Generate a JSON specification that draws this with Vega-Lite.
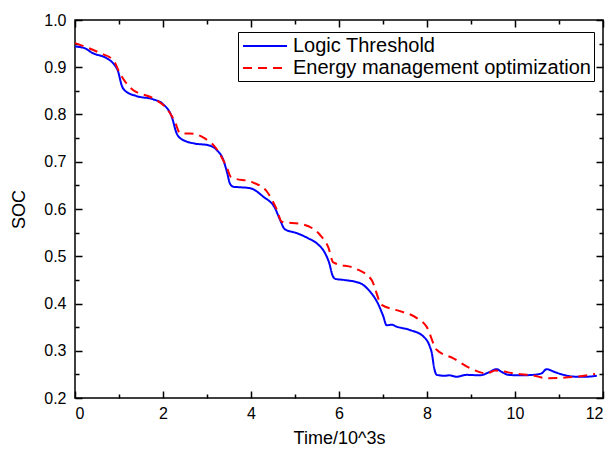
{
  "$schema": "https://vega.github.io/schema/vega-lite/v6.json",
  "width": 528,
  "height": 378,
  "autosize": {"type": "none"},
  "padding": {"left": 75, "top": 20, "right": 11, "bottom": 55},
  "background": "white",
  "config": {
    "view": {"stroke": "black", "strokeWidth": 1.5},
    "font": "Liberation Sans",
    "axis": {
      "domain": false,
      "ticks": false,
      "tickSize": 0,
      "grid": true,
      "gridColor": "black",
      "gridOpacity": 1,
      "gridWidth": 1.5,
      "labelFont": "Liberation Sans",
      "labelFontSize": 16,
      "labelColor": "black",
      "titleFont": "Liberation Sans",
      "titleFontSize": 18,
      "titleFontWeight": "normal",
      "titleColor": "black",
      "labelOverlap": false
    }
  },
  "data": {
    "values": [
      {"t": 0, "soc": 0.944, "series": "Logic Threshold"},
      {"t": 0.23, "soc": 0.940, "series": "Logic Threshold"},
      {"t": 0.38, "soc": 0.931, "series": "Logic Threshold"},
      {"t": 0.72, "soc": 0.919, "series": "Logic Threshold"},
      {"t": 0.87, "soc": 0.908, "series": "Logic Threshold"},
      {"t": 0.98, "soc": 0.891, "series": "Logic Threshold"},
      {"t": 1.06, "soc": 0.862, "series": "Logic Threshold"},
      {"t": 1.14, "soc": 0.850, "series": "Logic Threshold"},
      {"t": 1.4, "soc": 0.839, "series": "Logic Threshold"},
      {"t": 1.78, "soc": 0.832, "series": "Logic Threshold"},
      {"t": 2.0, "soc": 0.822, "series": "Logic Threshold"},
      {"t": 2.2, "soc": 0.795, "series": "Logic Threshold"},
      {"t": 2.31, "soc": 0.760, "series": "Logic Threshold"},
      {"t": 2.39, "soc": 0.750, "series": "Logic Threshold"},
      {"t": 2.69, "soc": 0.739, "series": "Logic Threshold"},
      {"t": 3.03, "soc": 0.735, "series": "Logic Threshold"},
      {"t": 3.22, "soc": 0.725, "series": "Logic Threshold"},
      {"t": 3.37, "soc": 0.704, "series": "Logic Threshold"},
      {"t": 3.46, "soc": 0.676, "series": "Logic Threshold"},
      {"t": 3.52, "soc": 0.654, "series": "Logic Threshold"},
      {"t": 3.6, "soc": 0.647, "series": "Logic Threshold"},
      {"t": 3.75, "soc": 0.646, "series": "Logic Threshold"},
      {"t": 3.98, "soc": 0.644, "series": "Logic Threshold"},
      {"t": 4.28, "soc": 0.626, "series": "Logic Threshold"},
      {"t": 4.55, "soc": 0.601, "series": "Logic Threshold"},
      {"t": 4.66, "soc": 0.577, "series": "Logic Threshold"},
      {"t": 4.77, "soc": 0.557, "series": "Logic Threshold"},
      {"t": 5.04, "soc": 0.549, "series": "Logic Threshold"},
      {"t": 5.3, "soc": 0.538, "series": "Logic Threshold"},
      {"t": 5.5, "soc": 0.527, "series": "Logic Threshold"},
      {"t": 5.68, "soc": 0.507, "series": "Logic Threshold"},
      {"t": 5.78, "soc": 0.485, "series": "Logic Threshold"},
      {"t": 5.85, "soc": 0.460, "series": "Logic Threshold"},
      {"t": 5.92, "soc": 0.452, "series": "Logic Threshold"},
      {"t": 6.1, "soc": 0.450, "series": "Logic Threshold"},
      {"t": 6.48, "soc": 0.443, "series": "Logic Threshold"},
      {"t": 6.67, "soc": 0.429, "series": "Logic Threshold"},
      {"t": 6.9, "soc": 0.397, "series": "Logic Threshold"},
      {"t": 7.01, "soc": 0.372, "series": "Logic Threshold"},
      {"t": 7.08, "soc": 0.354, "series": "Logic Threshold"},
      {"t": 7.2, "soc": 0.355, "series": "Logic Threshold"},
      {"t": 7.31, "soc": 0.351, "series": "Logic Threshold"},
      {"t": 7.61, "soc": 0.344, "series": "Logic Threshold"},
      {"t": 7.92, "soc": 0.330, "series": "Logic Threshold"},
      {"t": 8.06, "soc": 0.310, "series": "Logic Threshold"},
      {"t": 8.11, "soc": 0.295, "series": "Logic Threshold"},
      {"t": 8.16, "soc": 0.265, "series": "Logic Threshold"},
      {"t": 8.22, "soc": 0.249, "series": "Logic Threshold"},
      {"t": 8.4, "soc": 0.247, "series": "Logic Threshold"},
      {"t": 8.5, "soc": 0.248, "series": "Logic Threshold"},
      {"t": 8.67, "soc": 0.245, "series": "Logic Threshold"},
      {"t": 8.9, "soc": 0.249, "series": "Logic Threshold"},
      {"t": 9.2, "soc": 0.248, "series": "Logic Threshold"},
      {"t": 9.4, "soc": 0.254, "series": "Logic Threshold"},
      {"t": 9.58, "soc": 0.261, "series": "Logic Threshold"},
      {"t": 9.7, "soc": 0.255, "series": "Logic Threshold"},
      {"t": 9.85, "soc": 0.249, "series": "Logic Threshold"},
      {"t": 10.1, "soc": 0.248, "series": "Logic Threshold"},
      {"t": 10.42, "soc": 0.249, "series": "Logic Threshold"},
      {"t": 10.6, "soc": 0.252, "series": "Logic Threshold"},
      {"t": 10.72, "soc": 0.261, "series": "Logic Threshold"},
      {"t": 10.9, "soc": 0.255, "series": "Logic Threshold"},
      {"t": 11.1, "soc": 0.249, "series": "Logic Threshold"},
      {"t": 11.4, "soc": 0.245, "series": "Logic Threshold"},
      {"t": 11.6, "soc": 0.245, "series": "Logic Threshold"},
      {"t": 11.86, "soc": 0.247, "series": "Logic Threshold"},
      {"t": 0, "soc": 0.951, "series": "Energy management optimization"},
      {"t": 0.57, "soc": 0.930, "series": "Energy management optimization"},
      {"t": 0.87, "soc": 0.915, "series": "Energy management optimization"},
      {"t": 1.02, "soc": 0.887, "series": "Energy management optimization"},
      {"t": 1.29, "soc": 0.854, "series": "Energy management optimization"},
      {"t": 1.78, "soc": 0.834, "series": "Energy management optimization"},
      {"t": 2.08, "soc": 0.813, "series": "Energy management optimization"},
      {"t": 2.27, "soc": 0.785, "series": "Energy management optimization"},
      {"t": 2.39, "soc": 0.760, "series": "Energy management optimization"},
      {"t": 2.61, "soc": 0.760, "series": "Energy management optimization"},
      {"t": 2.92, "soc": 0.751, "series": "Energy management optimization"},
      {"t": 3.22, "soc": 0.727, "series": "Energy management optimization"},
      {"t": 3.45, "soc": 0.688, "series": "Energy management optimization"},
      {"t": 3.55, "soc": 0.667, "series": "Energy management optimization"},
      {"t": 4.05, "soc": 0.656, "series": "Energy management optimization"},
      {"t": 4.36, "soc": 0.637, "series": "Energy management optimization"},
      {"t": 4.58, "soc": 0.600, "series": "Energy management optimization"},
      {"t": 4.7, "soc": 0.573, "series": "Energy management optimization"},
      {"t": 5.15, "soc": 0.568, "series": "Energy management optimization"},
      {"t": 5.57, "soc": 0.545, "series": "Energy management optimization"},
      {"t": 5.76, "soc": 0.518, "series": "Energy management optimization"},
      {"t": 5.87, "soc": 0.487, "series": "Energy management optimization"},
      {"t": 6.4, "soc": 0.473, "series": "Energy management optimization"},
      {"t": 6.74, "soc": 0.450, "series": "Energy management optimization"},
      {"t": 6.97, "soc": 0.397, "series": "Energy management optimization"},
      {"t": 7.31, "soc": 0.386, "series": "Energy management optimization"},
      {"t": 7.77, "soc": 0.369, "series": "Energy management optimization"},
      {"t": 7.99, "soc": 0.351, "series": "Energy management optimization"},
      {"t": 8.22, "soc": 0.302, "series": "Energy management optimization"},
      {"t": 8.6, "soc": 0.284, "series": "Energy management optimization"},
      {"t": 8.98, "soc": 0.263, "series": "Energy management optimization"},
      {"t": 9.36, "soc": 0.252, "series": "Energy management optimization"},
      {"t": 9.55, "soc": 0.258, "series": "Energy management optimization"},
      {"t": 10.04, "soc": 0.251, "series": "Energy management optimization"},
      {"t": 10.4, "soc": 0.248, "series": "Energy management optimization"},
      {"t": 10.72, "soc": 0.242, "series": "Energy management optimization"},
      {"t": 11.4, "soc": 0.245, "series": "Energy management optimization"},
      {"t": 11.82, "soc": 0.251, "series": "Energy management optimization"}
    ]
  },
  "mark": {"type": "line", "interpolate": "monotone", "strokeWidth": 2},
  "encoding": {
    "x": {
      "field": "t", "type": "quantitative",
      "scale": {"domain": [0, 12], "nice": false, "zero": false},
      "axis": {
        "title": "Time/10^3s",
        "orient": "bottom",
        "values": [0,1,2,3,4,5,6,7,8,9,10,11,12],
        "format": "d",
        "labelExpr": "datum.value % 2 === 0 ? datum.label : ''",
        "gridDash": {"condition": {"test": "datum.value % 2 === 0", "value": [7, 364, 7]}, "value": [4, 370, 4]},
        "labelPadding": 7,
        "titlePadding": 8
      }
    },
    "y": {
      "field": "soc", "type": "quantitative",
      "scale": {"domain": [0.2, 1.0], "nice": false, "zero": false},
      "axis": {
        "title": "SOC",
        "orient": "left",
        "values": [0.2,0.25,0.3,0.35,0.4,0.45,0.5,0.55,0.6,0.65,0.7,0.75,0.8,0.85,0.9,0.95,1.0],
        "format": ".1f",
        "labelExpr": "round(datum.value*100) % 10 === 0 ? datum.label : ''",
        "gridDash": {"condition": {"test": "round(datum.value*100) % 10 === 0", "value": [7, 514, 7]}, "value": [4, 520, 4]},
        "labelPadding": 9,
        "titlePadding": 15
      }
    },
    "color": {
      "field": "series", "type": "nominal",
      "scale": {"domain": ["Logic Threshold", "Energy management optimization"], "range": ["#0000FF", "#FF0000"]},
      "legend": {
        "title": null,
        "orient": "none",
        "legendX": 163,
        "legendY": 12,
        "symbolType": "M-2.2,0L2.2,0",
        "symbolSize": 400,
        "symbolOffset": 13,
        "symbolStrokeWidth": 2,
        "labelFont": "Liberation Sans",
        "labelFontSize": 20,
        "labelColor": "black",
        "labelOffset": 17,
        "labelLimit": 400,
        "strokeColor": "black",
        "fillColor": "white",
        "padding": 3,
        "rowPadding": 1
      }
    },
    "strokeDash": {
      "field": "series", "type": "nominal",
      "scale": {"domain": ["Logic Threshold", "Energy management optimization"], "range": [[1, 0], [9, 6]]},
      "legend": null
    }
  }
}
